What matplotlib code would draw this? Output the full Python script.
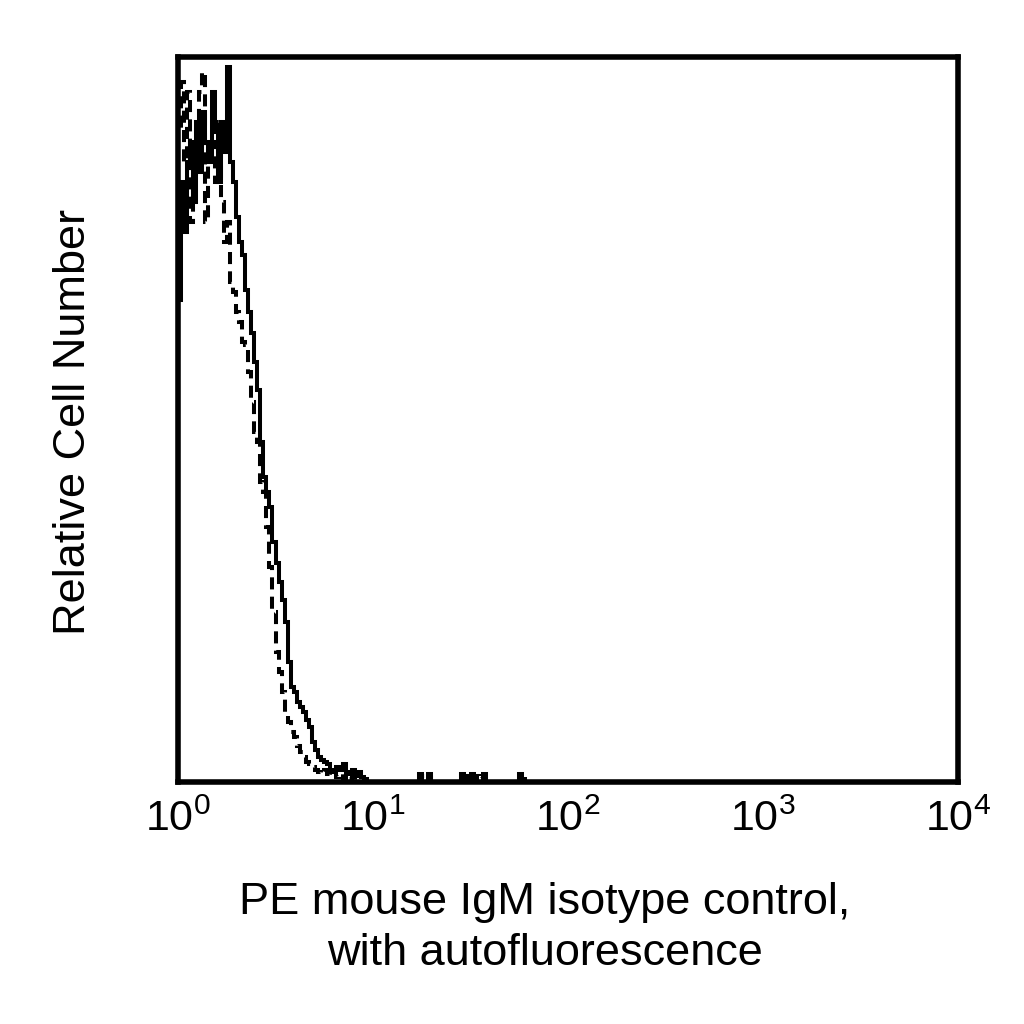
import matplotlib
matplotlib.use("Agg")
import matplotlib.pyplot as plt
import numpy as np

plt.rcParams['font.family'] = ['Liberation Sans', 'DejaVu Sans']
plt.rcParams['mathtext.fontset'] = 'custom'
plt.rcParams['mathtext.rm'] = 'Liberation Sans'
plt.rcParams['mathtext.it'] = 'Liberation Sans:italic'

# 256 log channels over 4 decades, counts (relative units)
n_channels = 256
solid_head = [482, 600, 550, 620, 640, 580, 660, 610, 670, 640,
              620, 690, 650, 600, 660, 630, 715, 620, 600, 565,
              540, 527, 492, 470, 449, 420, 392, 340, 305, 290,
              275, 240, 219, 200, 182, 160, 120, 95, 90, 80,
              75, 70, 62, 55, 40, 32, 25, 22, 20, 18,
              12, 10, 15, 12, 18, 10, 8, 12, 6, 10,
              5, 3]
dashed_head = [650, 700, 620, 690, 560, 600, 650, 690, 710, 560,
               620, 640, 600, 660, 580, 540, 560, 500, 490, 470,
               460, 440, 437, 410, 380, 350, 340, 300, 290, 255,
               215, 170, 130, 110, 90, 70, 60, 50, 45, 36,
               30, 25, 20, 18, 15, 12, 10, 8, 12, 8,
               6, 10, 5, 8, 4, 8, 3, 6]
# isolated single events further out (channel: count)
solid_tail = {79: 8, 82: 8, 93: 8, 96: 8, 100: 8, 112: 8}
dashed_tail = {80: 6, 83: 6, 94: 6, 97: 6, 99: 6, 113: 6}

tick_vals = [1, 10, 100, 1000, 10000]
tick_labels = ['$10^{0}$', '$10^{1}$', '$10^{2}$', '$10^{3}$', '$10^{4}$']
xlabel = 'PE mouse IgM isotype control,\nwith autofluorescence'
ylabel = 'Relative Cell Number'


def build(head, tail):
    v = np.zeros(n_channels)
    v[:len(head)] = head
    for ch, c in tail.items():
        v[ch] = c
    return v


solid = build(solid_head, solid_tail)
dashed = build(dashed_head, dashed_tail)
edges = 10 ** (4 * np.arange(n_channels + 1) / n_channels)

fig = plt.figure(figsize=(10.24, 10.24), dpi=100)
ax = fig.add_axes([178 / 1024, 1 - 782 / 1024, 780 / 1024, 725 / 1024])

ax.stairs(dashed, edges, color='black', linewidth=2.9, linestyle=(0, (3, 1.8)))
ax.stairs(solid, edges, color='black', linewidth=2.9)

ax.set_xscale('log')
ax.set_xlim(1, 10000)
ax.set_ylim(0, 725)
ax.set_xticks(tick_vals)
ax.set_xticklabels(tick_labels, fontsize=31)
ax.minorticks_off()
ax.set_yticks([])
ax.tick_params(axis='x', length=0, pad=13)
for s in ax.spines.values():
    s.set_linewidth(4)

fig.text(545 / 1024, 1 - 928 / 1024, xlabel, ha='center', va='center',
         fontsize=32.5, linespacing=1.3)
fig.text(74 / 1024, 1 - 422 / 1024, ylabel, ha='center', va='center',
         rotation=90, fontsize=32.5)

fig.savefig('out.png', dpi=100)
